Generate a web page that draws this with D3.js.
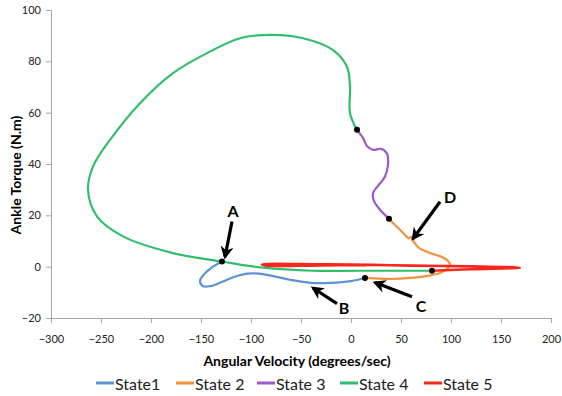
<!DOCTYPE html>
<html>
<head>
<meta charset="utf-8">
<script src="https://cdn.jsdelivr.net/npm/d3@7"></script>
<style>
  body { margin: 0; background: #fff; }
  svg { font-family: Lato, "Open Sans", sans-serif; }
</style>
</head>
<body>
<svg id="chart" width="562" height="396"></svg>
<script>
// data: [angular velocity, ankle torque]
const state1 = [[-129, 2.0], [-138, 0.0], [-147, -3.0], [-151, -5.5], [-148, -7.6], [-141, -7.6], [-131, -6.3],
  [-117, -4.0], [-104, -2.7], [-92, -2.7], [-80, -3.5], [-61, -5.1], [-40, -6.3], [-20, -6.3], [0, -5.6], [14, -4.4]];
const state2 = [[14, -4.4], [39, -4.8], [60, -4.4], [75, -3.7], [89, -2.5], [96, -0.8], [99, 0.8], [97, 2.2], [92, 3.6],
  [79, 5.3], [68, 7.3], [63, 9.5], [60, 11.6], [58, 11.0], [55, 12.0], [49, 14.4], [43, 16.6], [38, 18.7]];
const state3 = [[38, 18.7], [29, 22.2], [23, 25.5], [22, 28.7], [27, 31.5], [34, 35.1], [37, 39.7], [36, 44.0],
  [30, 45.9], [22, 45.5], [16, 47.0], [12, 50.1], [6, 53.3]];
const state4 = [[6, 53.3], [-1, 59.8], [-1, 70.2], [-4, 77.9], [-18, 84.4], [-48, 89.0], [-81, 90.3], [-111, 89.0],
  [-144, 83.2], [-178, 75.4], [-211, 63.7], [-241, 49.4], [-258, 39], [-263, 30], [-254, 19.6], [-228, 11.8],
  [-178, 5.3], [-129, 2.0], [-88, -0.4], [-38, -1.6], [9, -1.6], [81, -1.6]];
const state5 = [[81, -1.6], [120, -1.0], [169, -0.4], [120, 0.1], [60, 0.4], [22, 0.7], [-30, 0.9], [-89, 0.9],
  [-86, 0.5], [-30, 0.5], [15, 0.6]];

const seriesNames = ['State1', 'State 2', 'State 3', 'State 4', 'State 5'];
const seriesColors = ['#5b93d3', '#f4923a', '#9b59c9', '#2fbf6c', '#f9261b'];
const xTicks = [-300, -250, -200, -150, -100, -50, 0, 50, 100, 150, 200];
const yTicks = [-20, 0, 20, 40, 60, 80, 100];

// annotation arrows: tail -> tip, label near tail (data units)
const notes = [
  { label: 'A', tail: [-119, 17.6], tip: [-126, 3.8], at: [-118, 21.8] },
  { label: 'B', tail: [-14, -14.4], tip: [-38, -8.3], at: [-7, -15.8] },
  { label: 'C', tail: [61, -11.7], tip: [24, -6.2], at: [70, -15.0] },
  { label: 'D', tail: [89, 25.3], tip: [62, 10.9], at: [99, 27.2] }
];

const allSeries = [state1, state2, state3, state4, state5];

const margin = { top: 10, right: 11, bottom: 78, left: 51 };
const width = 562 - margin.left - margin.right;
const height = 396 - margin.top - margin.bottom;

const svg = d3.select('#chart');
const g = svg.append('g').attr('transform', `translate(${margin.left},${margin.top})`);

const x = d3.scaleLinear().domain([-300, 200]).range([0, width]);
const y = d3.scaleLinear().domain([-20, 100]).range([height, 0]);

// axes
const xAxis = g.append('g')
  .attr('transform', `translate(0,${height})`)
  .call(d3.axisBottom(x).tickValues(xTicks).tickSize(5).tickPadding(12).tickSizeOuter(0));
const yAxis = g.append('g')
  .call(d3.axisLeft(y).tickValues(yTicks).tickSize(5).tickPadding(5).tickSizeOuter(0));
[xAxis, yAxis].forEach(a => {
  a.select('.domain').attr('stroke', '#a6a6a6');
  a.selectAll('.tick line').attr('stroke', '#a6a6a6');
  a.selectAll('.tick text').attr('fill', '#222').style('font-size', '11px').style('font-family', 'Lato, sans-serif');
});

// curves
const line = d3.line()
  .x(d => x(d[0]))
  .y(d => y(d[1]))
  .curve(d3.curveCatmullRom.alpha(0.5));

g.selectAll('.state')
  .data(allSeries)
  .enter().append('path')
  .attr('class', 'state')
  .attr('fill', 'none')
  .attr('stroke', (_, i) => seriesColors[i])
  .attr('stroke-width', (_, i) => i === 4 ? 2.6 : 2.2)
  .attr('stroke-linejoin', 'round')
  .attr('d', d => line(d));

// transition dots (first point of each state)
g.selectAll('.dot')
  .data(allSeries.map(s => s[0]))
  .enter().append('circle')
  .attr('cx', d => x(d[0]))
  .attr('cy', d => y(d[1]))
  .attr('r', 3)
  .attr('fill', '#000');

// arrows
svg.append('defs').append('marker')
  .attr('id', 'head')
  .attr('viewBox', '0 0 10 10')
  .attr('refX', 8).attr('refY', 5)
  .attr('markerWidth', 13).attr('markerHeight', 13)
  .attr('markerUnits', 'userSpaceOnUse')
  .attr('orient', 'auto')
  .append('path')
  .attr('d', 'M0,0 L10,5 L0,10 L3,5 Z')
  .attr('fill', '#000');

const ann = g.selectAll('.note').data(notes).enter().append('g');
ann.append('line')
  .attr('x1', d => x(d.tail[0])).attr('y1', d => y(d.tail[1]))
  .attr('x2', d => x(d.tip[0])).attr('y2', d => y(d.tip[1]))
  .attr('stroke', '#000').attr('stroke-width', 3.2)
  .attr('marker-end', 'url(#head)');
ann.append('text')
  .attr('x', d => x(d.at[0])).attr('y', d => y(d.at[1]))
  .attr('text-anchor', 'middle').attr('dominant-baseline', 'central')
  .style('font-size', '16px').style('font-weight', 'bold')
  .text(d => d.label);

// axis titles
svg.append('text')
  .attr('x', 297).attr('y', 360)
  .attr('text-anchor', 'middle').attr('dominant-baseline', 'central')
  .style('font-size', '14px').style('font-weight', 'bold')
  .text('Angular Velocity (degrees/sec)');
svg.append('text')
  .attr('transform', 'translate(15,175) rotate(-90)')
  .attr('text-anchor', 'middle').attr('dominant-baseline', 'central')
  .style('font-size', '14px').style('font-weight', 'bold')
  .text('Ankle Torque (N.m)');

// legend
const legendX = [96, 176, 257, 340, 424];
const legend = svg.selectAll('.legend')
  .data(seriesNames)
  .enter().append('g')
  .attr('transform', (_, i) => `translate(${legendX[i]},383)`);
legend.append('line')
  .attr('x1', 0).attr('x2', 18)
  .attr('stroke', (_, i) => seriesColors[i]).attr('stroke-width', 3);
legend.append('text')
  .attr('x', 19).attr('dominant-baseline', 'central')
  .style('font-size', '16px').attr('fill', '#222')
  .text(d => d);
</script>
</body>
</html>
